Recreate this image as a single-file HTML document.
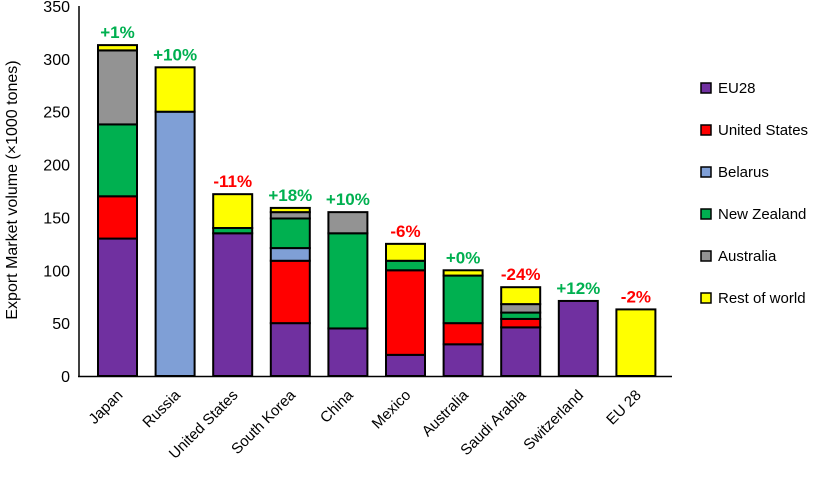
<!DOCTYPE html>
<html><head><meta charset="utf-8"><style>
body{margin:0;background:#fff;}
svg text{font-family:"Liberation Sans",sans-serif;}
</style></head><body>
<svg id="chart" width="827" height="478" viewBox="0 0 827 478" xmlns="http://www.w3.org/2000/svg">
<g id="yaxis"></g>
<g id="bars"></g>
<g id="xlabels"></g>
<g id="legend"></g>
<text transform="translate(17,190) rotate(-90)" text-anchor="middle" font-size="16" fill="#000">Export Market volume (×1000 tones)</text>
</svg>
<script>
const categories=["Japan","Russia","United States","South Korea","China","Mexico","Australia","Saudi Arabia","Switzerland","EU 28"];
const seriesNames=["EU28","United States","Belarus","New Zealand","Australia","Rest of world"];
const eu28=[130,0,135,50,45,20,30,46,71,0];
const unitedStates=[40,0,0,59,0,80,20,8,0,0];
const belarus=[0,250,0,12,0,0,0,0,0,0];
const newZealand=[68,0,5,28,90,9,45,6,0,0];
const australia=[70,0,0,6,20,0,0,8,0,0];
const restOfWorld=[5,42,32,4,0,16,5,16,0,63];
const changes=["+1%","+10%","-11%","+18%","+10%","-6%","+0%","-24%","+12%","-2%"];
const yTicks=[0,50,100,150,200,250,300,350];
const colors=["#7030A0","#FF0000","#7F9FD6","#00B050","#939393","#FFFF00"];
const NS="http://www.w3.org/2000/svg";
const y0=376,yMax=350,yTop=6,x0=78,step=57.6,bw=39;
function Y(v){return y0-(v/yMax)*(y0-yTop);}
function X(i){return 98+i*step;}
function mk(t,a,p){const e=document.createElementNS(NS,t);for(const k in a)e.setAttribute(k,a[k]);p.appendChild(e);return e;}
const ya=document.getElementById('yaxis');
const ax=mk('line',{x1:x0+1,y1:y0,x2:x0+1,y2:yTop,stroke:'#000','stroke-width':1.5},ya);


const bx=mk('line',{x1:x0,y1:y0+0.5,x2:672,y2:y0+0.5,stroke:'#000','stroke-width':1.5},ya);


yTicks.forEach(v=>{const t=mk('text',{x:70,y:Y(v)+6,'text-anchor':'end','font-size':16,fill:'#000'},ya);t.textContent=v;

});
const data=[eu28,unitedStates,belarus,newZealand,australia,restOfWorld];
const bars=document.getElementById('bars');
categories.forEach((c,i)=>{let cum=0;
data.forEach((s,k)=>{const v=s[i];if(!v)return;
const r=mk('rect',{x:X(i),y:Y(cum+v),width:bw,height:Y(cum)-Y(cum+v),fill:colors[k],stroke:'#000','stroke-width':2},bars);


cum+=v;});
const t=mk('text',{x:X(i)+bw/2,y:Y(cum)-7,'text-anchor':'middle','font-size':17,'font-weight':'bold',fill:changes[i][0]=='-'?'#FF0000':'#00B050'},bars);
t.textContent=changes[i];


const l=mk('text',{transform:`translate(${X(i)+bw/2+6},${y0+20}) rotate(-45)`,'text-anchor':'end','font-size':15,fill:'#000'},document.getElementById('xlabels'));
l.textContent=c;


});
const lg=document.getElementById('legend');
seriesNames.forEach((n,k)=>{const yy=88+k*42;
const g=mk('g',{},lg);


mk('rect',{x:701,y:yy-5,width:10,height:10,fill:colors[k],stroke:'#000','stroke-width':1.5},g);
const t=mk('text',{x:718,y:yy+5,'font-size':15,fill:'#000'},g);t.textContent=n;});
</script>
</body></html>
